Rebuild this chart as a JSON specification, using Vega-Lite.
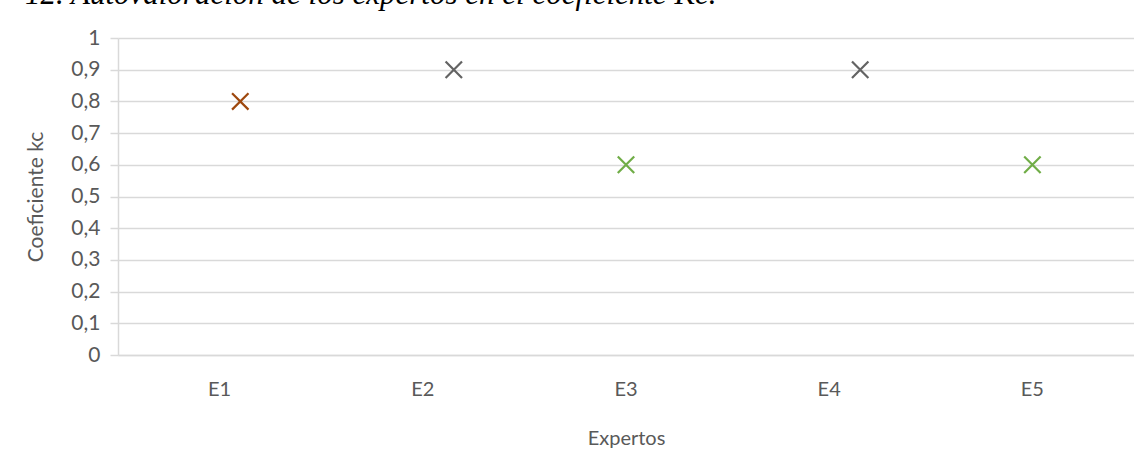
{
  "$schema": "https://vega.github.io/schema/vega-lite/v6.json",
  "autosize": "none",
  "width": 1016,
  "height": 317,
  "padding": {"left": 118, "top": 38, "right": 0, "bottom": 102},
  "background": "white",
  "title": {
    "text": "12. Autovaloración de los expertos en el coeficiente Kc.",
    "anchor": "start",
    "frame": "group",
    "dx": -93,
    "dy": -16,
    "offset": 0,
    "font": "Liberation Serif",
    "fontSize": 31,
    "fontWeight": "normal",
    "fontStyle": "italic",
    "color": "black"
  },
  "data": {
    "values": [
      {"experto": "E1", "kc": 0.8, "serie": "Serie 1"},
      {"experto": "E2", "kc": 0.9, "serie": "Serie 2"},
      {"experto": "E3", "kc": 0.6, "serie": "Serie 3"},
      {"experto": "E4", "kc": 0.9, "serie": "Serie 2"},
      {"experto": "E5", "kc": 0.6, "serie": "Serie 3"}
    ]
  },
  "mark": {
    "type": "point",
    "shape": "M-1,-1L1,1M-1,1L1,-1",
    "filled": false,
    "size": 270,
    "strokeWidth": 2.2,
    "opacity": 1
  },
  "encoding": {
    "x": {
      "field": "experto",
      "type": "nominal",
      "title": "Expertos",
      "scale": {"type": "band", "paddingInner": 0, "paddingOuter": 0},
      "axis": {
        "labelAngle": 0,
        "ticks": false,
        "grid": false,
        "domainColor": "#d9d9d9",
        "domainWidth": 1.5,
        "labelFont": "Lato",
        "labelFontSize": 20,
        "labelColor": "#595959",
        "labelPadding": 24,
        "titleFont": "Lato",
        "titleFontSize": 20,
        "titleFontWeight": "normal",
        "titleColor": "#595959",
        "titlePadding": 29
      }
    },
    "xOffset": {
      "field": "serie",
      "type": "nominal",
      "scale": {"type": "point", "domain": ["Serie 3", "_", "Serie 1", "Serie 2"], "range": [101.6, 132.6], "padding": 0}
    },
    "y": {
      "field": "kc",
      "type": "quantitative",
      "title": "Coeficiente kc",
      "scale": {"domain": [0, 1], "nice": false},
      "axis": {
        "values": [0, 0.1, 0.2, 0.3, 0.4, 0.5, 0.6, 0.7, 0.8, 0.9, 1],
        "labelExpr": "replace(format(datum.value, '.1~f'), '.', ',')",
        "grid": true,
        "gridColor": "#d9d9d9",
        "gridWidth": 1.5,
        "domainColor": "#d9d9d9",
        "domainWidth": 1.5,
        "tickColor": "#d9d9d9",
        "tickWidth": 1.5,
        "tickSize": 8,
        "labelFont": "Lato",
        "labelFontSize": 21,
        "labelColor": "#595959",
        "labelPadding": 10,
        "titleFont": "Lato",
        "titleFontSize": 21,
        "titleFontWeight": "normal",
        "titleColor": "#595959",
        "titlePadding": 24
      }
    },
    "color": {
      "field": "serie",
      "type": "nominal",
      "scale": {"domain": ["Serie 1", "Serie 2", "Serie 3"], "range": ["#9E480E", "#636363", "#70AD47"]},
      "legend": null
    }
  },
  "config": {
    "view": {"stroke": null}
  }
}
